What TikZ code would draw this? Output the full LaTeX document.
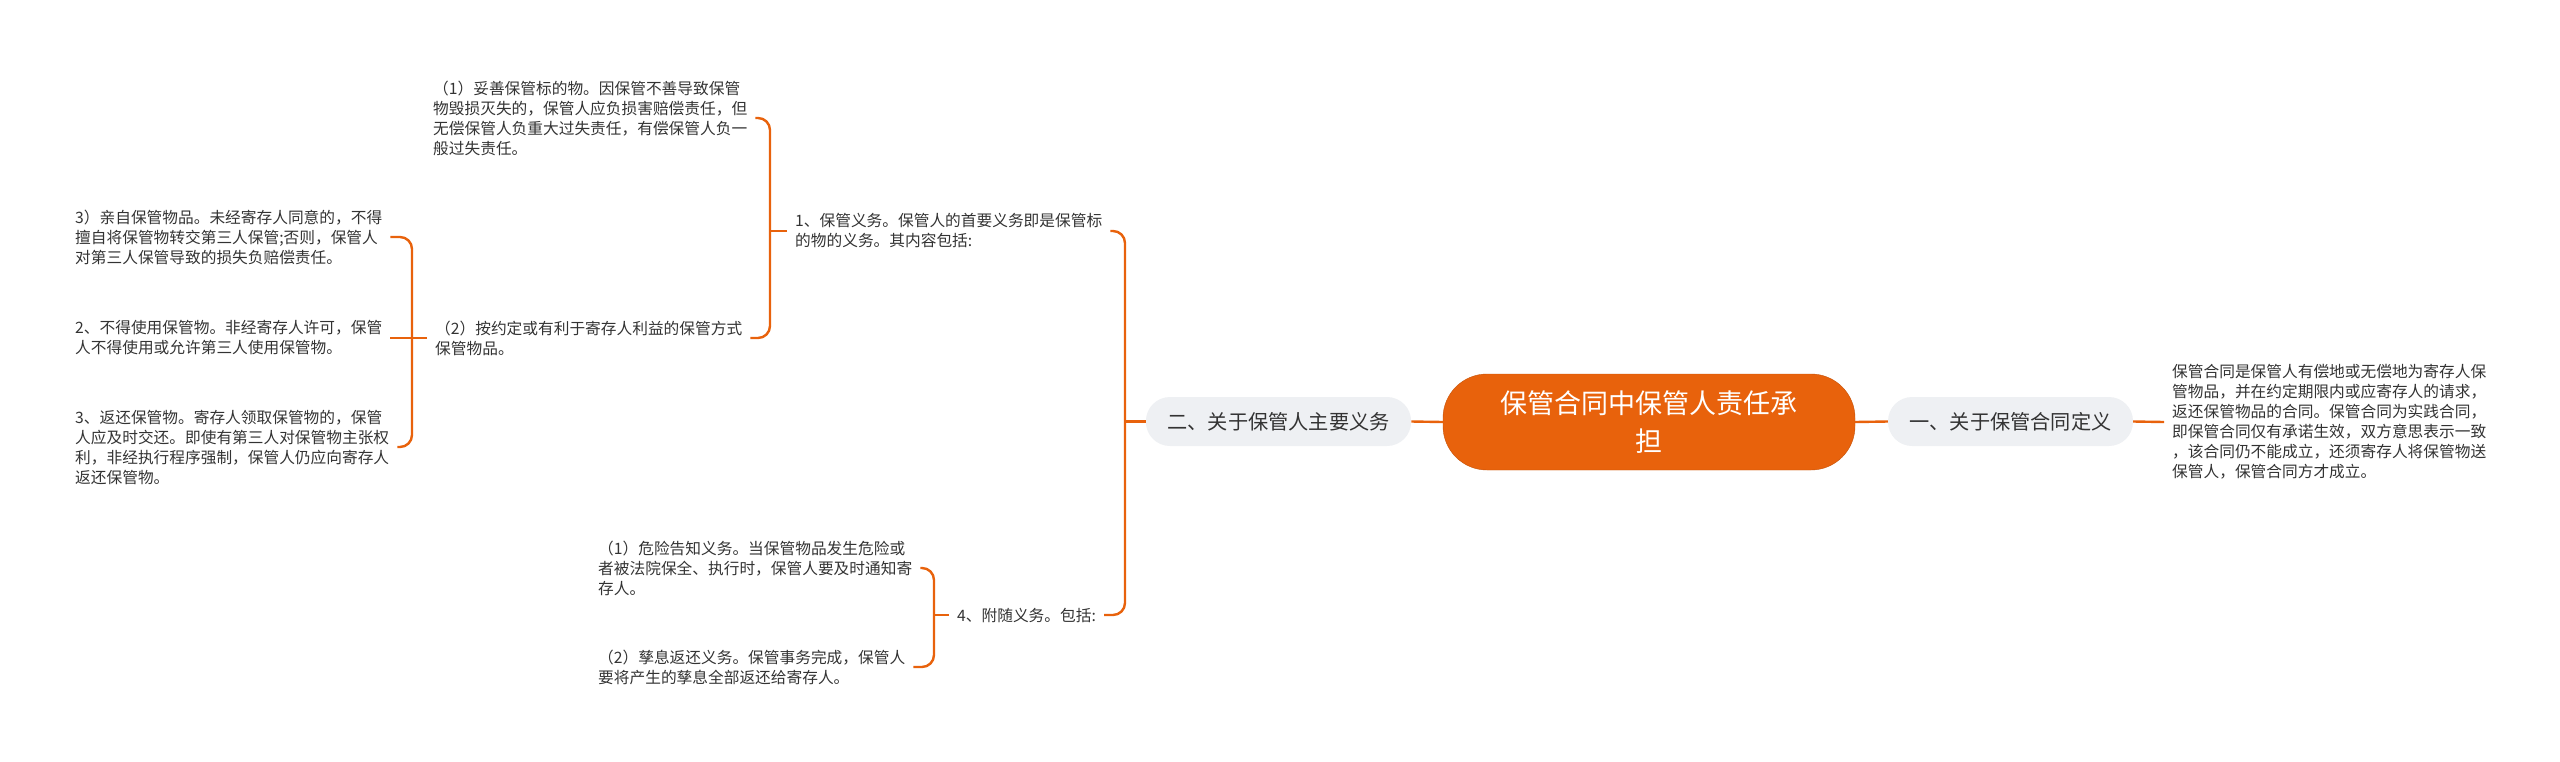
\documentclass[tikz,border=0pt]{standalone}
\usepackage{fontspec}
\newfontfamily\cjk{Noto Sans CJK SC}
\usepackage{tikz}
\usepackage{xcolor}
\definecolor{mainorange}{RGB}{232,98,12}
\definecolor{branchgray}{RGB}{238,240,243}
\definecolor{leaftext}{RGB}{51,51,51}

\begin{document}
\begin{tikzpicture}[x=1pt, y=-1pt,
    root/.style={rectangle, rounded corners=44pt, fill=mainorange, draw=mainorange!85!black, text=white, minimum width=412pt, minimum height=96pt, align=center, font=\cjk\fontsize{27}{38}\selectfont},
    topic/.style={rectangle, rounded corners=24pt, fill=branchgray, text=leaftext, minimum height=49pt, inner xsep=21.5pt, font=\cjk\fontsize{20.2}{24}\selectfont},
    leaf/.style={anchor=west, inner xsep=8pt, inner ysep=0pt, align=left, text=leaftext, font=\cjk\fontsize{15.7}{20}\selectfont},
    link/.style={draw=mainorange, line width=2.4pt},
    bracket/.style={link, rounded corners=12pt}]

\useasboundingbox (0,0) rectangle (2560,761);

\node[root] (root) at (1649,422) {保管合同中保管人责任承\\担};
\node[topic] (def) at (2010.5,421.5) {一、关于保管合同定义};
\node[topic] (duty) at (1278.5,421.5) {二、关于保管人主要义务};

\node[leaf] (defText) at (2164,422) {保管合同是保管人有偿地或无偿地为寄存人保\\管物品，并在约定期限内或应寄存人的请求，\\返还保管物品的合同。保管合同为实践合同，\\即保管合同仅有承诺生效，双方意思表示一致\\，该合同仍不能成立，还须寄存人将保管物送\\保管人，保管合同方才成立。};

\node[leaf] (keep) at (787,231) {1、保管义务。保管人的首要义务即是保管标\\的物的义务。其内容包括:};
\node[leaf] (extra) at (949,615) {4、附随义务。包括:};

\node[leaf] (care) at (425,118) {（1）妥善保管标的物。因保管不善导致保管\\物毁损灭失的，保管人应负损害赔偿责任，但\\无偿保管人负重大过失责任，有偿保管人负一\\般过失责任。};
\node[leaf] (manner) at (427,338) {（2）按约定或有利于寄存人利益的保管方式\\保管物品。};

\node[leaf] (self) at (67,237) {3）亲自保管物品。未经寄存人同意的，不得\\擅自将保管物转交第三人保管;否则，保管人\\对第三人保管导致的损失负赔偿责任。};
\node[leaf] (nouse) at (67,338) {2、不得使用保管物。非经寄存人许可，保管\\人不得使用或允许第三人使用保管物。};
\node[leaf] (giveback) at (67,447) {3、返还保管物。寄存人领取保管物的，保管\\人应及时交还。即使有第三人对保管物主张权\\利，非经执行程序强制，保管人仍应向寄存人\\返还保管物。};

\node[leaf] (warn) at (590,568) {（1）危险告知义务。当保管物品发生危险或\\者被法院保全、执行时，保管人要及时通知寄\\存人。};
\node[leaf] (fruit) at (590,667) {（2）孳息返还义务。保管事务完成，保管人\\要将产生的孳息全部返还给寄存人。};

\coordinate (dutyJoin) at (1125,421.5);
\coordinate (keepJoin) at (770,231);
\coordinate (mannerJoin) at (412,338);
\coordinate (extraJoin) at (934,615);

\draw[link] (root.east) -- (def.west);
\draw[link] (def.east) -- (defText.west);
\draw[link] (root.west) -- (duty.east);

\draw[link] (duty.west) -- (dutyJoin);
\draw[bracket] (keep.east) -| (dutyJoin) |- (extra.east);

\draw[link] (keep.west) -- (keepJoin);
\draw[bracket] (care.east) -| (keepJoin) |- (manner.east);

\draw[link] (manner.west) -- (mannerJoin);
\draw[bracket] (self.east) -| (mannerJoin) |- (giveback.east);
\draw[link] (nouse.east) -- (mannerJoin);

\draw[link] (extra.west) -- (extraJoin);
\draw[bracket] (warn.east) -| (extraJoin) |- (fruit.east);
\end{tikzpicture}
\end{document}
